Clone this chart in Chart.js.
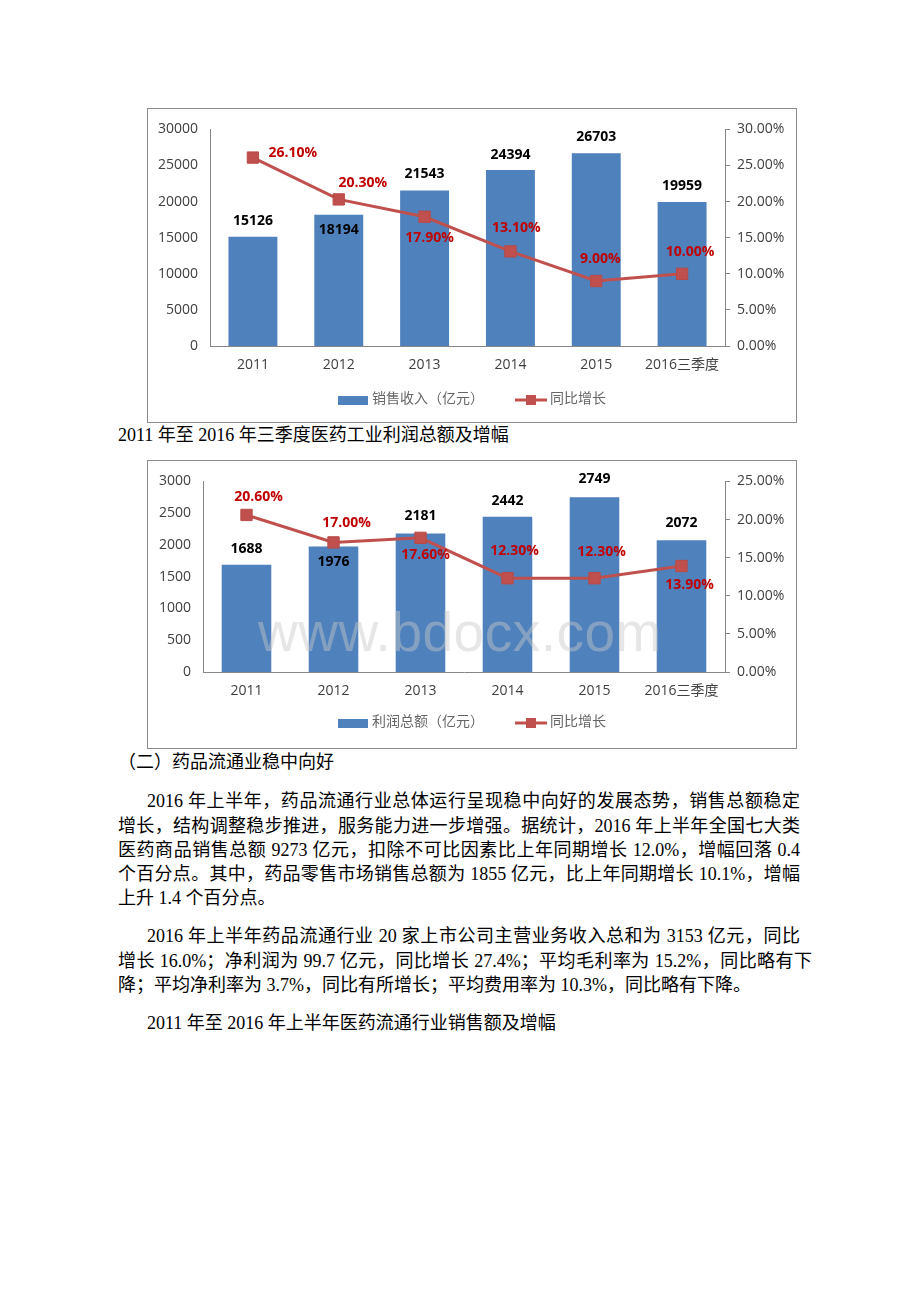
<!DOCTYPE html>
<html>
<head>
<meta charset="utf-8">
<script src="https://cdn.jsdelivr.net/npm/chart.js@4.4.0/dist/chart.umd.min.js"></script>
<style>
  body { margin: 0; background: #fff; width: 920px; height: 1302px; position: relative; overflow: hidden; }
  .box { position: absolute; left: 147px; width: 648px; border: 1px solid #8c8c8c; background: #fff; }
  .box canvas { display: block; }
  .ln { position: absolute; left: 118px; width: 682px; height: 25px; line-height: 25px;
        font-family: "Liberation Serif", "Noto Sans CJK SC", serif; font-size: 18px; color: #000; }
  .j { text-align: justify; text-align-last: justify; }
  .wm { position: absolute; left: 258px; top: 600px; font-family: "Liberation Sans", sans-serif;
        font-size: 55px; color: rgba(200,200,200,0.45); pointer-events: none; letter-spacing: 0.5px; }
</style>
</head>
<body>

<div class="box" style="top:108px;height:313px"><canvas id="salesChart" width="648" height="313"></canvas></div>
<div class="ln" style="top:423px">2011 年至 2016 年三季度医药工业利润总额及增幅</div>

<div class="box" style="top:460px;height:287px"><canvas id="profitChart" width="648" height="287"></canvas></div>
<div class="wm">www.bdocx.com</div>

<div class="ln" style="top:750px">（二）药品流通业稳中向好</div>

<div class="ln j" style="top:789px;left:147px;width:653px">2016 年上半年，药品流通行业总体运行呈现稳中向好的发展态势，销售总额稳定</div>
<div class="ln j" style="top:814px">增长，结构调整稳步推进，服务能力进一步增强。据统计，2016 年上半年全国七大类</div>
<div class="ln j" style="top:838px">医药商品销售总额 9273 亿元，扣除不可比因素比上年同期增长 12.0%，增幅回落 0.4</div>
<div class="ln j" style="top:862px">个百分点。其中，药品零售市场销售总额为 1855 亿元，比上年同期增长 10.1%，增幅</div>
<div class="ln" style="top:886px">上升 1.4 个百分点。</div>

<div class="ln j" style="top:924px;left:147px;width:653px">2016 年上半年药品流通行业 20 家上市公司主营业务收入总和为 3153 亿元，同比</div>
<div class="ln j" style="top:949px;width:694px">增长 16.0%；净利润为 99.7 亿元，同比增长 27.4%；平均毛利率为 15.2%，同比略有下</div>
<div class="ln" style="top:973px">降；平均净利率为 3.7%，同比有所增长；平均费用率为 10.3%，同比略有下降。</div>

<div class="ln" style="top:1011px;left:147px">2011 年至 2016 年上半年医药流通行业销售额及增幅</div>

<script>
const years = ['2011', '2012', '2013', '2014', '2015', '2016三季度'];
const salesRevenue = [15126, 18194, 21543, 24394, 26703, 19959];
const salesGrowth = [26.1, 20.3, 17.9, 13.1, 9.0, 10.0];
const profitTotal = [1688, 1976, 2181, 2442, 2749, 2072];
const profitGrowth = [20.6, 17.0, 17.6, 12.3, 12.3, 13.9];

// where the value labels sit, in px from the bar top / the point
const salesBarDy = [-16, 15, -16, -15, -16, -16];
const salesPctOff = [[40, -5], [24, -16], [5, 21], [6, -23], [4, -22], [8, -22]];
const profitBarDy = [-16, 16, -17, -16, -18, -17];
const profitPctOff = [[12, -18], [13, -19], [5, 17], [7, -27], [7, -26], [8, 19]];

const FONT = '"Open Sans", "Noto Sans CJK SC", sans-serif';
const AXIS = '#868686';

const labelsPlugin = {
  id: 'valueLabels',
  afterDatasetsDraw(chart, args, o) {
    const ctx = chart.ctx;
    const bars = chart.getDatasetMeta(0).data;
    const pts = chart.getDatasetMeta(1).data;
    const bd = chart.data.datasets[0].data;
    const ld = chart.data.datasets[1].data;
    ctx.save();
    ctx.textAlign = 'center';
    ctx.textBaseline = 'middle';
    ctx.font = 'bold 14px ' + FONT;
    ctx.fillStyle = '#000';
    bars.forEach((b, i) => ctx.fillText(String(bd[i]), b.x, b.y + o.barDy[i]));
    ctx.fillStyle = '#C00000';
    pts.forEach((p, i) => ctx.fillText(ld[i].toFixed(2) + '%', p.x + o.pctOff[i][0], p.y + o.pctOff[i][1]));

    // legend
    const y = o.legendY;
    ctx.fillStyle = '#4F81BD';
    ctx.fillRect(190, y - 4, 30, 9);
    ctx.strokeStyle = '#C0504D';
    ctx.lineWidth = 3;
    ctx.beginPath(); ctx.moveTo(367, y); ctx.lineTo(399, y); ctx.stroke();
    ctx.fillStyle = '#C0504D';
    ctx.fillRect(378, y - 5, 10, 10);
    ctx.font = '14px ' + FONT;
    ctx.fillStyle = '#666666';
    ctx.textAlign = 'left';
    ctx.fillText(o.barName, 224, y - 1);
    ctx.fillText('同比增长', 402, y - 1);
    ctx.restore();
  }
};

function makeChart(id, barName, bars, pct, yMax, yStep, pMax, leftW, barDy, pctOff, legendY) {
  return new Chart(document.getElementById(id), {
    type: 'bar',
    data: {
      labels: years,
      datasets: [
        { label: barName, data: bars, backgroundColor: '#4F81BD', yAxisID: 'y', order: 1,
          categoryPercentage: 1, barPercentage: 0.57 },
        { type: 'line', label: '同比增长', data: pct, yAxisID: 'y1', order: 0,
          borderColor: '#C0504D', borderWidth: 3, pointStyle: 'rect', pointRadius: 8,
          pointBackgroundColor: '#C0504D', pointBorderColor: '#B84A47', pointBorderWidth: 1 }
      ]
    },
    options: {
      responsive: false,
      animation: false,
      layout: { padding: { top: 17, bottom: 46, left: 0, right: 0 } },
      plugins: {
        legend: { display: false },
        tooltip: { enabled: false },
        valueLabels: { barDy: barDy, pctOff: pctOff, legendY: legendY, barName: barName }
      },
      scales: {
        x: {
          grid: { display: false, drawTicks: false },
          border: { display: true, color: AXIS },
          ticks: { color: '#404040', font: { family: FONT, size: 14 }, padding: 11, maxRotation: 0 },
          afterFit(s) { s.height = 30; }
        },
        y: {
          position: 'left', min: 0, max: yMax,
          grid: { display: false, drawTicks: false },
          border: { display: true, color: AXIS },
          ticks: { stepSize: yStep, color: '#404040', font: { family: FONT, size: 14 }, padding: 12,
                   callback: v => String(v) },
          afterFit(s) { s.width = leftW; }
        },
        y1: {
          position: 'right', min: 0, max: pMax,
          grid: { display: true, drawOnChartArea: false, drawTicks: true, tickLength: 5, color: AXIS },
          border: { display: true, color: AXIS },
          ticks: { stepSize: 5, color: '#404040', font: { family: FONT, size: 14 }, padding: 7,
                   callback: v => v.toFixed(2) + '%' },
          afterFit(s) { s.width = 71; }
        }
      }
    },
    plugins: [labelsPlugin]
  });
}

makeChart('salesChart', '销售收入（亿元）', salesRevenue, salesGrowth, 30000, 5000, 30, 62,
  salesBarDy, salesPctOff, 291);
makeChart('profitChart', '利润总额（亿元）', profitTotal, profitGrowth, 3000, 500, 25, 55,
  profitBarDy, profitPctOff, 262);
</script>
</body>
</html>
